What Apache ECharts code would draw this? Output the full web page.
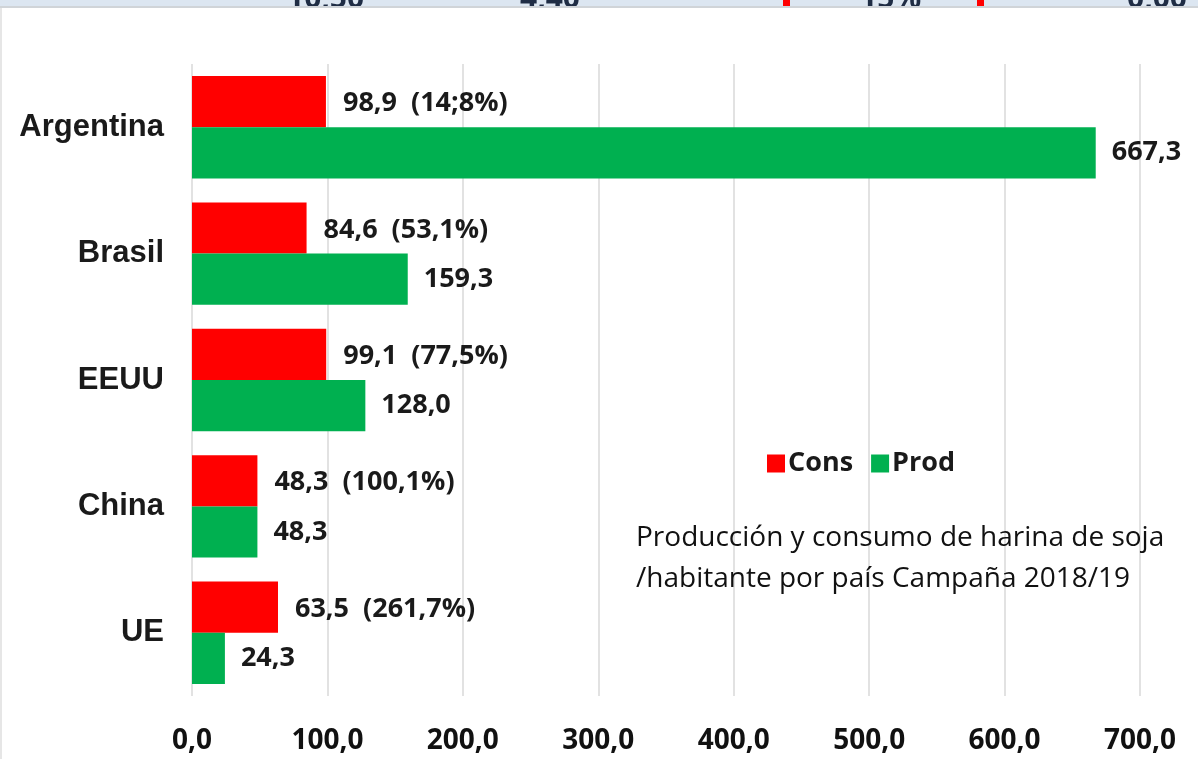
<!DOCTYPE html>
<html>
<head>
<meta charset="utf-8">
<script src="https://cdn.jsdelivr.net/npm/echarts@6/dist/echarts.min.js"></script>
<style>
  html, body { margin: 0; padding: 0; background: #fff; }
  #chart { width: 1198px; height: 759px; }
</style>
</head>
<body>
<div id="chart"></div>
<script>
const countries = ['Argentina', 'Brasil', 'EEUU', 'China', 'UE'];
const cons = [98.9, 84.6, 99.1, 48.3, 63.5];
const prod = [667.3, 159.3, 128.0, 48.3, 24.3];
const ratios = ['14;8%', '53,1%', '77,5%', '100,1%', '261,7%'];
const topStrip = ['10,50', '4,40', '15%', '0,00'];
const topStripX = [287, 520, 860, 1127];

const fmt = (v) => v.toFixed(1).replace('.', ',');
const labelFont = '"Open Sans", "Noto Sans", sans-serif';

const myChart = echarts.init(document.getElementById('chart'));

// bits of the table above the chart, only their lower edge shows
const stripTexts = topStrip.map((t, i) => ({
  type: 'text',
  z: 101,
  x: topStripX[i],
  y: 14,
  style: {
    text: t,
    fontSize: 30,
    fontWeight: 'bold',
    fill: '#1f2d45',
    fontFamily: labelFont,
    verticalAlign: 'bottom'
  }
}));

const option = {
  animation: false,
  grid: { left: 192, right: 58, top: 64, bottom: 63 },
  legend: {
    left: 762,
    top: 445,
    itemWidth: 18,
    itemHeight: 18,
    itemGap: 18,
    icon: 'rect',
    textStyle: { fontSize: 27, fontWeight: 'bold', color: '#1a1a1a', fontFamily: labelFont, padding: [0, 0, 0, -2] },
    data: ['Cons', 'Prod']
  },
  xAxis: {
    type: 'value',
    min: 0,
    max: 700,
    interval: 100,
    axisLine: { show: false },
    axisTick: { show: false },
    splitLine: { lineStyle: { color: '#d9d9d9', width: 1.5 } },
    axisLabel: {
      margin: 31,
      fontSize: 28,
      fontWeight: 'bold',
      color: '#111',
      fontFamily: labelFont,
      formatter: (v) => fmt(v)
    }
  },
  yAxis: {
    type: 'category',
    inverse: true,
    data: countries,
    axisLine: { show: false },
    axisTick: { show: false },
    axisLabel: {
      margin: 28,
      fontSize: 31,
      fontWeight: 'bold',
      color: '#1a1a1a',
      fontFamily: '"Liberation Sans", Arial, sans-serif'
    }
  },
  series: [
    {
      name: 'Cons',
      type: 'bar',
      data: cons,
      barGap: '0%',
      barCategoryGap: '19%',
      itemStyle: { color: '#ff0000' },
      label: {
        show: true,
        position: 'right',
        distance: 17,
        offset: [0, 2],
        fontSize: 27,
        fontWeight: 'bold',
        color: '#1a1a1a',
        fontFamily: labelFont,
        formatter: (p) => fmt(p.value) + '  (' + ratios[p.dataIndex] + ')'
      }
    },
    {
      name: 'Prod',
      type: 'bar',
      data: prod,
      itemStyle: { color: '#00b050' },
      label: {
        show: true,
        position: 'right',
        distance: 16,
        fontSize: 27,
        fontWeight: 'bold',
        color: '#1a1a1a',
        fontFamily: labelFont,
        formatter: (p) => fmt(p.value)
      }
    }
  ],
  graphic: [
    {
      type: 'rect',
      shape: { x: 0, y: 0, width: 1198, height: 6 },
      style: { fill: '#dce6f1' },
      z: 100
    },
    {
      type: 'group',
      z: 101,
      clipPath: { type: 'rect', shape: { x: 0, y: 0, width: 1198, height: 6 } },
      children: stripTexts
    },
    { type: 'rect', z: 102, shape: { x: 783, y: 0, width: 7, height: 6 }, style: { fill: '#ff0000' } },
    { type: 'rect', z: 102, shape: { x: 977, y: 0, width: 7, height: 6 }, style: { fill: '#ff0000' } },
    { type: 'rect', z: 99, shape: { x: 0, y: 6, width: 1198, height: 2 }, style: { fill: '#d0d4d8' } },
    { type: 'rect', z: 99, shape: { x: 0, y: 8, width: 2, height: 751 }, style: { fill: '#e6e6e6' } },
    {
      type: 'text',
      left: 636,
      top: 518,
      z: 50,
      style: {
        text: 'Producción y consumo de harina de soja\n/habitante por país Campaña 2018/19',
        fontSize: 28,
        lineHeight: 41,
        fill: '#111',
        fontFamily: labelFont
      }
    }
  ]
};

option && myChart.setOption(option);
</script>
</body>
</html>
